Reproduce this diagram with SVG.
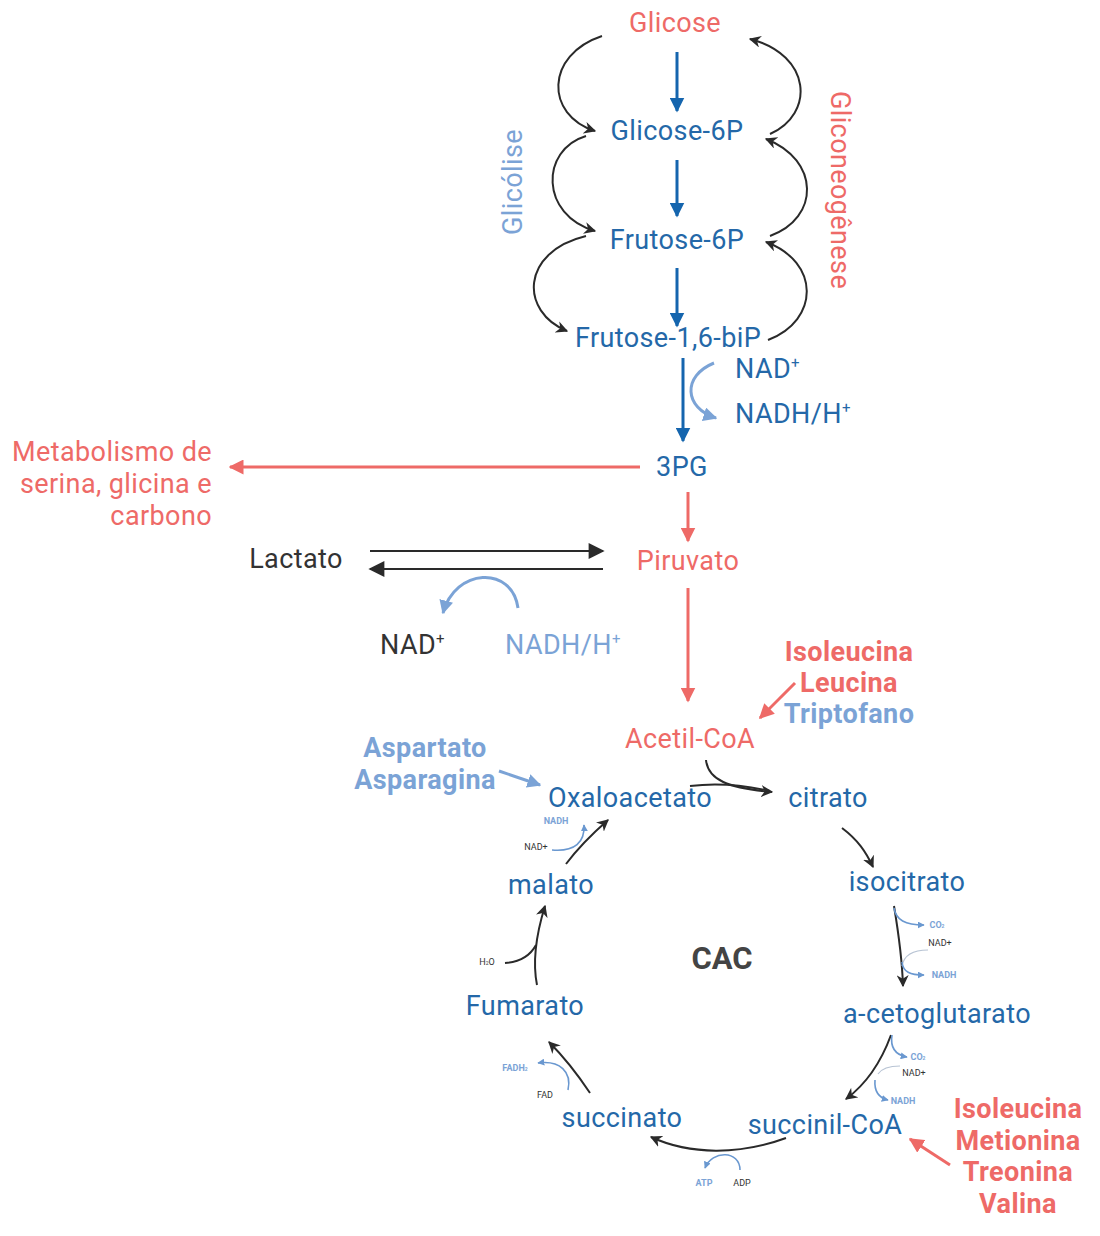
<svg xmlns="http://www.w3.org/2000/svg" width="1100" height="1236" viewBox="0 0 1100 1236">
<defs>
<style>
text{font-family:Roboto,"Liberation Sans",sans-serif}
.m{font-size:27px;letter-spacing:0.4px;fill:#2468a8;text-anchor:middle}
.r{fill:#ee6a67}
.lb{fill:#7ba3d6}
.k{fill:#333}
.b{font-weight:bold}
.s{font-size:9px;text-anchor:middle}
.blk{fill:none;stroke:#2a2a2a;stroke-width:2}
.blu{fill:none;stroke:#1565ae;stroke-width:3}
.red{fill:none;stroke:#ee6a67;stroke-width:3}
.lbl{fill:none;stroke:#7ba3d6;stroke-width:3}
.lbs{fill:none;stroke:#6a98d0;stroke-width:1.6}
.gr{fill:none;stroke:#b8c4d4;stroke-width:1.2}
</style>
<marker id="ak" viewBox="0 0 10 10" refX="9" refY="5" markerWidth="12" markerHeight="12" markerUnits="userSpaceOnUse" orient="auto"><path d="M0,0 L10,5 L0,10 L3,5 z" fill="#2a2a2a"/></marker>
<marker id="akl" viewBox="0 0 10 10" refX="9" refY="5" markerWidth="18" markerHeight="16" markerUnits="userSpaceOnUse" orient="auto"><path d="M0,0 L10,5 L0,10 z" fill="#2a2a2a"/></marker>
<marker id="ab" viewBox="0 0 10 10" refX="9" refY="5" markerWidth="15" markerHeight="15" markerUnits="userSpaceOnUse" orient="auto"><path d="M0,0 L10,5 L0,10 z" fill="#1565ae"/></marker>
<marker id="ar" viewBox="0 0 10 10" refX="9" refY="5" markerWidth="15" markerHeight="15" markerUnits="userSpaceOnUse" orient="auto"><path d="M0,0 L10,5 L0,10 z" fill="#ee6a67"/></marker>
<marker id="al" viewBox="0 0 10 10" refX="9" refY="5" markerWidth="14" markerHeight="14" markerUnits="userSpaceOnUse" orient="auto"><path d="M0,0 L10,5 L0,10 z" fill="#7ba3d6"/></marker>
<marker id="as" viewBox="0 0 10 10" refX="9" refY="5" markerWidth="7" markerHeight="7" markerUnits="userSpaceOnUse" orient="auto"><path d="M0,0 L10,5 L0,10 z" fill="#6a98d0"/></marker>
</defs>
<rect width="1100" height="1236" fill="#fff"/>

<g id="connectors">
<path class="blu" d="M677,52 L677,111" marker-end="url(#ab)"/>
<path class="blu" d="M677,160 L677,216" marker-end="url(#ab)"/>
<path class="blu" d="M677,268 L677,326" marker-end="url(#ab)"/>
<path class="blu" d="M683,358 L683,441" marker-end="url(#ab)"/>
<path class="lbl" d="M714,363 C682,376 684,408 716,418" marker-end="url(#al)" stroke-width="2.5"/>
<path class="blk" d="M602,36 C545,55 545,115 595,131" marker-end="url(#ak)"/>
<path class="blk" d="M586,136 C540,150 540,215 595,231" marker-end="url(#ak)"/>
<path class="blk" d="M586,236 C520,252 520,312 567,331" marker-end="url(#ak)"/>
<path class="blk" d="M768,340 C820,320 820,262 766,242" marker-end="url(#ak)"/>
<path class="blk" d="M770,236 C820,218 820,160 766,139" marker-end="url(#ak)"/>
<path class="blk" d="M770,134 C815,114 812,55 750,39" marker-end="url(#ak)"/>
<path class="red" d="M640,467 L230,467" marker-end="url(#ar)"/>
<path class="red" d="M688,492 L688,541" marker-end="url(#ar)"/>
<path class="red" d="M688,588 L688,701" marker-end="url(#ar)"/>
<path class="blk" stroke-width="3.5" d="M370,551 L603,551" marker-end="url(#akl)"/>
<path class="blk" stroke-width="3.5" d="M603,569 L370,569" marker-end="url(#akl)"/>
<path class="lbl" d="M518,608 C512,565 455,568 443,613" marker-end="url(#al)"/>
<path class="red" d="M795,683 L760,718" marker-end="url(#ar)"/>
<path class="lbl" d="M499,771 L540,785" marker-end="url(#al)"/>
<path class="red" d="M950,1165 L910,1139" marker-end="url(#ar)"/>
<path class="blk" d="M706,760 C708,780 728,788 772,792" marker-end="url(#ak)"/>
<path class="blk" stroke-width="1.4" d="M690,786 C722,782 748,786 770,791"/>
<path class="blk" d="M842,828 C858,840 866,852 873,867" marker-end="url(#ak)"/>
<path class="blk" d="M894,906 C898,930 902,955 903,986" marker-end="url(#ak)"/>
<path class="lbs" stroke-width="2" d="M894,908 C896,920 905,925 924,925" marker-end="url(#as)"/>
<path class="gr" d="M928,950 C912,950 904,955 902,966"/>
<path class="lbs" d="M902,962 C903,972 910,975 924,975" marker-end="url(#as)"/>
<path class="blk" d="M891,1035 C880,1065 865,1085 846,1099" marker-end="url(#ak)"/>
<path class="lbs" stroke-width="2" d="M892,1035 C890,1048 896,1055 907,1057" marker-end="url(#as)"/>
<path class="gr" d="M900,1066 C890,1066 882,1068 878,1074"/>
<path class="lbs" d="M875,1080 C874,1092 880,1098 888,1100" marker-end="url(#as)"/>
<path class="blk" d="M786,1138 C740,1155 690,1155 651,1137" marker-end="url(#ak)"/>
<path class="lbs" d="M740,1170 C740,1150 712,1150 705,1168" marker-end="url(#as)"/>
<path class="blk" d="M590,1093 C578,1075 565,1058 549,1042" marker-end="url(#ak)"/>
<path class="lbs" d="M568,1090 C572,1072 560,1060 538,1063" marker-end="url(#as)"/>
<path class="blk" d="M537,985 C532,960 536,935 545,906" marker-end="url(#ak)"/>
<path class="blk" stroke-width="1.5" d="M505,963 C520,962 530,956 536,945"/>
<path class="blk" d="M566,864 C578,848 592,834 608,820" marker-end="url(#ak)"/>
<path class="lbs" d="M552,850 C575,852 585,842 584,825" marker-end="url(#as)"/>
</g>

<g id="glicose"><text class="m r" x="675" y="32">Glicose</text></g>
<g id="glicose6p"><text class="m" x="677" y="140">Glicose-6P</text></g>
<g id="frutose6p"><text class="m" x="677" y="249">Frutose-6P</text></g>
<g id="frutose16bip"><text class="m" x="668" y="347">Frutose-1,6-biP</text></g>
<g id="glicolise"><text class="m lb" transform="translate(522,182) rotate(-90)">Glicólise</text></g>
<g id="gliconeogenese"><text class="m r" transform="translate(831,190) rotate(90)">Gliconeogênese</text></g>
<g id="nad1"><text class="m" x="735" y="378" style="text-anchor:start">NAD<tspan font-size="15" dy="-10">+</tspan></text></g>
<g id="nadh1"><text class="m" x="735" y="423" style="text-anchor:start">NADH/H<tspan font-size="15" dy="-10">+</tspan></text></g>
<g id="pg3"><text class="m" x="682" y="476">3PG</text></g>
<g id="metabolismo">
<text class="m r" x="212" y="461" style="text-anchor:end">Metabolismo de</text>
<text class="m r" x="212" y="493" style="text-anchor:end">serina, glicina e</text>
<text class="m r" x="212" y="525" style="text-anchor:end">carbono</text>
</g>
<g id="piruvato"><text class="m r" x="688" y="570">Piruvato</text></g>
<g id="lactato"><text class="m k" x="296" y="568">Lactato</text></g>
<g id="nad2"><text class="m k" x="380" y="654" style="text-anchor:start">NAD<tspan font-size="15" dy="-10">+</tspan></text></g>
<g id="nadh2"><text class="m lb" x="505" y="654" style="text-anchor:start">NADH/H<tspan font-size="15" dy="-10">+</tspan></text></g>
<g id="acetilcoa"><text class="m r" x="690" y="748">Acetil-CoA</text></g>
<g id="aa1">
<text class="m r b" x="849" y="661">Isoleucina</text>
<text class="m r b" x="849" y="692">Leucina</text>
<text class="m lb b" x="849" y="723">Triptofano</text>
</g>
<g id="aa2">
<text class="m lb b" x="425" y="757">Aspartato</text>
<text class="m lb b" x="425" y="789">Asparagina</text>
</g>
<g id="oxaloacetato"><text class="m" x="630" y="807">Oxaloacetato</text></g>
<g id="citrato"><text class="m" x="828" y="807">citrato</text></g>
<g id="isocitrato"><text class="m" x="907" y="891">isocitrato</text></g>
<g id="cetoglutarato"><text class="m" x="937" y="1023">a-cetoglutarato</text></g>
<g id="succinilcoa"><text class="m" x="825" y="1134">succinil-CoA</text></g>
<g id="succinato"><text class="m" x="622" y="1127">succinato</text></g>
<g id="fumarato"><text class="m" x="525" y="1015">Fumarato</text></g>
<g id="malato"><text class="m" x="551" y="894">malato</text></g>
<g id="cac"><text x="722" y="969" font-size="31" font-weight="bold" fill="#444" text-anchor="middle">CAC</text></g>
<g id="aa3">
<text class="m r b" x="1018" y="1118">Isoleucina</text>
<text class="m r b" x="1018" y="1150">Metionina</text>
<text class="m r b" x="1018" y="1181">Treonina</text>
<text class="m r b" x="1018" y="1213">Valina</text>
</g>
<g id="cofactors">
<text class="s lb b" x="937" y="928">CO<tspan font-size="5">2</tspan></text>
<text class="s k" x="940" y="946">NAD+</text>
<text class="s lb b" x="944" y="978">NADH</text>
<text class="s lb b" x="918" y="1060">CO<tspan font-size="5">2</tspan></text>
<text class="s k" x="914" y="1076">NAD+</text>
<text class="s lb b" x="903" y="1104">NADH</text>
<text class="s lb b" x="704" y="1186">ATP</text>
<text class="s k" x="742" y="1186">ADP</text>
<text class="s lb b" x="515" y="1071">FADH<tspan font-size="5">2</tspan></text>
<text class="s k" x="545" y="1098">FAD</text>
<text class="s k" x="487" y="965">H<tspan font-size="5">2</tspan>O</text>
<text class="s lb b" x="556" y="824" font-size="8">NADH</text>
<text class="s k" x="536" y="850">NAD+</text>
</g>
</svg>
